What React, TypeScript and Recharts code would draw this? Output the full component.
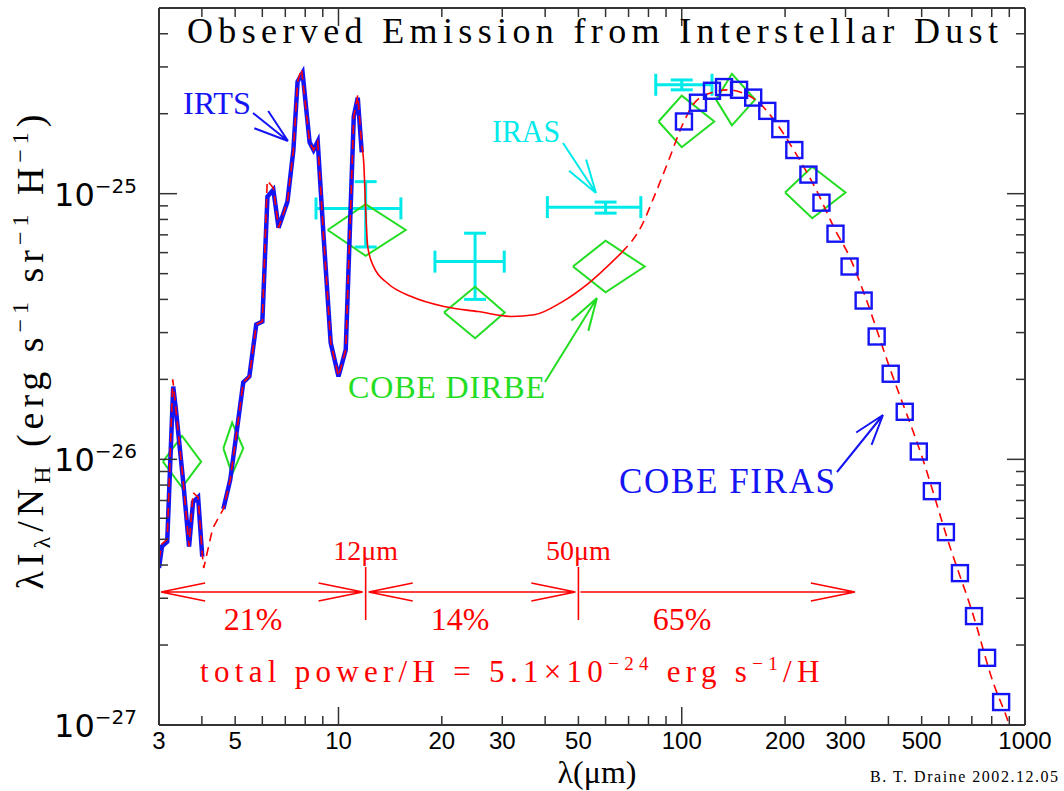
import React from 'react';
import { ComposedChart, Line, Scatter, ErrorBar, XAxis, YAxis } from 'recharts';

// IRTS spectrum (two pieces, gap between 4.0 and 4.6 um)
const irtsShortLam = [3.0, 3.06, 3.17, 3.3, 3.36, 3.53, 3.67, 3.77, 3.9, 4.01];
const irtsShortVal = [3.9e-27, 4.7e-27, 4.9e-27, 1.88e-26, 1.54e-26, 8.2e-27, 4.7e-27, 6.9e-27, 7.2e-27, 4.3e-27];
const irtsLongLam = [4.62, 4.84, 5.28, 5.5, 5.76, 6.0, 6.21, 6.46, 6.69, 7.1, 7.39, 7.6, 7.86, 8.24, 8.46, 8.7, 9.05, 9.49, 10.0, 10.5, 11.08, 11.38, 11.69];
const irtsLongVal = [6.5e-27, 8.4e-27, 1.95e-26, 2.05e-26, 3.22e-26, 3.3e-26, 9.75e-26, 1.035e-25, 7.45e-26, 9.33e-26, 1.46e-25, 2.64e-25, 2.85e-25, 1.56e-25, 1.46e-25, 1.57e-25, 6.89e-26, 2.75e-26, 2.05e-26, 2.59e-26, 1.95e-25, 2.3e-25, 1.43e-25];

// dust model: PAH part (dashed), mid-IR continuum (solid), far-IR (dashed)
const modelPahLam = [3.0, 3.06, 3.17, 3.29, 3.36, 3.53, 3.67, 3.77, 3.9, 4.01, 4.05, 4.3, 4.62, 4.84, 5.28, 5.5, 5.76, 6.0, 6.2, 6.46, 6.69, 7.1, 7.39, 7.6, 7.8, 8.24, 8.46, 8.7, 9.05, 9.49, 10.0, 10.5, 11.08, 11.38, 11.7];
const modelPahVal = [4.2e-27, 4.8e-27, 5.0e-27, 2.0e-26, 1.55e-26, 8.2e-27, 4.7e-27, 7.5e-27, 7.2e-27, 4.4e-27, 3.9e-27, 5.5e-27, 6.5e-27, 8.4e-27, 1.95e-26, 2.05e-26, 3.22e-26, 3.3e-26, 1.12e-25, 1.05e-25, 7.45e-26, 9.33e-26, 1.46e-25, 2.64e-25, 2.95e-25, 1.56e-25, 1.46e-25, 1.57e-25, 6.89e-26, 2.75e-26, 2.05e-26, 2.59e-26, 1.95e-25, 2.35e-25, 1.5e-25];
const modelMirLam = [11.7, 11.85, 12.0, 12.17, 12.67, 13.9, 16.3, 20.3, 25.5, 31.9, 37.2, 44.6, 53.5, 66.8];
const modelMirVal = [1.5e-25, 1.3e-25, 8.7e-26, 6.3e-26, 5.3e-26, 4.6e-26, 4.1e-26, 3.76e-26, 3.6e-26, 3.45e-26, 3.5e-26, 3.9e-26, 4.6e-26, 6.0e-26];
const modelFirLam = [66.8, 76.5, 83.5, 91.7, 100, 109, 122, 137, 150, 168, 187, 214, 245, 280, 308, 340, 404, 504, 604, 706, 807, 893, 940];
const modelFirVal = [6.0e-26, 7.6e-26, 9.9e-26, 1.34e-25, 1.79e-25, 2.2e-25, 2.4e-25, 2.46e-25, 2.4e-25, 2.2e-25, 1.87e-25, 1.43e-25, 1.05e-25, 7.3e-26, 5.8e-26, 4.2e-26, 2.2e-26, 1.0e-26, 4.7e-27, 2.6e-27, 1.45e-27, 1.03e-27, 8.3e-28];

// IRAS bands
const irasLam = [12, 25, 60, 100];
const irasVal = [8.8e-26, 5.55e-26, 8.9e-26, 2.57e-25];
const irasLamLo = [8.6, 19.1, 40.6, 84];
const irasLamHi = [15.2, 30.4, 76, 122.5];
const irasValLo = [6.3e-26, 4.0e-26, 8.45e-26, 2.46e-25];
const irasValHi = [1.11e-25, 7.1e-26, 9.3e-26, 2.68e-25];

// COBE DIRBE bands
const dirbeLam = [3.5, 4.9, 12, 25, 60, 100, 140, 240];
const dirbeVal = [9.8e-27, 1.1e-26, 7.3e-26, 3.57e-26, 5.32e-26, 1.87e-25, 2.26e-25, 1.01e-25];
const dirbeLamLo = [3.08, 4.62, 9.3, 20.3, 48.2, 85.6, 125.9, 200];
const dirbeLamHi = [3.98, 5.28, 15.7, 30.5, 78, 124.4, 163.6, 300];

// COBE FIRAS
const firasLam = [101.5, 111.5, 122.5, 132.8, 146.9, 161.5, 177.5, 193.7, 212.8, 233.9, 255.3, 280.5, 308.3, 338.8, 369.7, 406.2, 446.3, 490.5, 535.4, 588.3, 646.4, 710.3, 775.4, 852.0];
const firasVal = [1.87e-25, 2.2e-25, 2.44e-25, 2.52e-25, 2.46e-25, 2.3e-25, 2.05e-25, 1.75e-25, 1.46e-25, 1.18e-25, 9.25e-26, 7.07e-26, 5.32e-26, 3.96e-26, 2.9e-26, 2.1e-26, 1.51e-26, 1.07e-26, 7.59e-27, 5.32e-27, 3.73e-27, 2.57e-27, 1.79e-27, 1.22e-27];

// axes
const xTicks = [3, 4, 5, 6, 7, 8, 9, 10, 20, 30, 40, 50, 60, 70, 80, 90, 100, 200, 300, 400, 500, 600, 700, 800, 900, 1000];
const xLabels = [3, 5, 10, 20, 30, 50, 100, 200, 300, 500, 1000];
const xMajor = [10, 100, 1000];
const yTicks = [
  1e-27, 2e-27, 3e-27, 4e-27, 5e-27, 6e-27, 7e-27, 8e-27, 9e-27,
  1e-26, 2e-26, 3e-26, 4e-26, 5e-26, 6e-26, 7e-26, 8e-26, 9e-26,
  1e-25, 2e-25, 3e-25, 4e-25,
];

const pts = (lam: number[], val: number[]) => lam.map((l, i) => ({ lam: l, val: val[i] }));

const DIAMOND = Math.pow(10, 0.097);
const diamonds = dirbeLam.map((l, i) => [
  { lam: dirbeLamLo[i], val: dirbeVal[i] },
  { lam: l, val: dirbeVal[i] * DIAMOND },
  { lam: dirbeLamHi[i], val: dirbeVal[i] },
  { lam: l, val: dirbeVal[i] / DIAMOND },
  { lam: dirbeLamLo[i], val: dirbeVal[i] },
]);

const irasData = irasLam.map((l, i) => ({
  lam: l,
  val: irasVal[i],
  ex: [l - irasLamLo[i], irasLamHi[i] - l],
  ey: [irasVal[i] - irasValLo[i], irasValHi[i] - irasVal[i]],
}));

const AXIS = '#333';
const RED = '#ff0000';
const BLUE = '#1414f5';
const CYAN = '#00eaea';
const GREEN = '#22dd22';
const SERIF = '"Liberation Serif", "DejaVu Serif", serif';
const SANS = '"DejaVu Sans", sans-serif';

const isDecade = (v: number) => Math.abs(Math.log10(v) - Math.round(Math.log10(v))) < 0.01;

const BottomTick = (p: any) => {
  const v = p.payload.value;
  const len = xMajor.includes(v) ? 18 : 9;
  return (
    <g>
      <line x1={p.x} x2={p.x} y1={p.y} y2={p.y - len} stroke={AXIS} strokeWidth={1.5} />
      {xLabels.includes(v) && (
        <text x={p.x} y={p.y + 24} textAnchor="middle" fontFamily='"Liberation Sans", sans-serif' fontSize={24} fill="#000">
          {v}
        </text>
      )}
    </g>
  );
};

const TopTick = (p: any) => {
  const len = xMajor.includes(p.payload.value) ? 18 : 9;
  return <line x1={p.x} x2={p.x} y1={p.y} y2={p.y + len} stroke={AXIS} strokeWidth={1.5} />;
};

const LeftTick = (p: any) => {
  const v = p.payload.value;
  const major = isDecade(v);
  return (
    <g>
      <line x1={p.x} x2={p.x + (major ? 18 : 9)} y1={p.y} y2={p.y} stroke={AXIS} strokeWidth={1.5} />
      {major && (
        <text x={p.x - 22} y={p.y + 12} textAnchor="end" fontFamily={SANS} fontSize={32} fill="#000">
          <tspan>10</tspan>
          <tspan fontSize={20} dy={-13}>{'−' + Math.round(-Math.log10(v))}</tspan>
        </text>
      )}
    </g>
  );
};

const RightTick = (p: any) => {
  const major = isDecade(p.payload.value);
  return <line x1={p.x} x2={p.x - (major ? 18 : 9)} y1={p.y} y2={p.y} stroke={AXIS} strokeWidth={1.5} />;
};

const Square = (p: any) => (
  <rect x={p.cx - 8} y={p.cy - 8} width={16} height={16} fill="none" stroke={BLUE} strokeWidth={2.4} />
);

// plot box, used only to place the annotations
const PLOT = { left: 159, right: 1025 };
const px = (l: number) => PLOT.left + (Math.log10(l / 3) / Math.log10(1000 / 3)) * (PLOT.right - PLOT.left);

function barbs(x1: number, y1: number, x2: number, y2: number, len: number, deg: number) {
  const a = Math.atan2(y1 - y2, x1 - x2);
  const r = (deg * Math.PI) / 180;
  return [a - r, a + r].map((b) => `M${x2},${y2} L${x2 + len * Math.cos(b)},${y2 + len * Math.sin(b)}`).join(' ');
}

const Arrow = ({ x1, y1, x2, y2, color, len = 34, deg = 17, both = false, w = 2 }: any) => (
  <path
    d={`M${x1},${y1} L${x2},${y2} ${barbs(x1, y1, x2, y2, len, deg)} ${both ? barbs(x2, y2, x1, y1, len, deg) : ''}`}
    stroke={color}
    strokeWidth={w}
    fill="none"
  />
);

const Annotations = () => {
  const x12 = px(12);
  const x50 = px(50);
  const ya = 592;
  return (
    <svg width={1064} height={791} style={{ position: 'absolute', left: 0, top: 0, pointerEvents: 'none' }}>
      <text x={187} y={43} fontFamily={SERIF} fontSize={36} textLength={811} lengthAdjust="spacing" fill="#000">
        Observed Emission from Interstellar Dust
      </text>

      <text x={183} y={114} fontFamily={SERIF} fontSize={32} textLength={68} lengthAdjust="spacingAndGlyphs" fill={BLUE}>IRTS</text>
      <Arrow x1={253} y1={113} x2={288} y2={141} color={BLUE} len={36} deg={18} />

      <text x={492} y={142} fontFamily={SERIF} fontSize={32} textLength={68} lengthAdjust="spacingAndGlyphs" fill={CYAN}>IRAS</text>
      <Arrow x1={563} y1={143} x2={596} y2={193} color={CYAN} len={35} deg={17} />

      <text x={348} y={398} fontFamily={SERIF} fontSize={32} textLength={197} lengthAdjust="spacing" fill={GREEN}>COBE DIRBE</text>
      <Arrow x1={545} y1={382} x2={597} y2={298} color={GREEN} len={34} deg={17} />

      <text x={619} y={493} fontFamily={SERIF} fontSize={35} textLength={216} lengthAdjust="spacing" fill={BLUE}>COBE FIRAS</text>
      <Arrow x1={837} y1={472} x2={883} y2={415} color={BLUE} len={32} deg={18} />

      <line x1={x12} x2={x12} y1={567} y2={620} stroke={RED} strokeWidth={1.6} />
      <line x1={x50} x2={x50} y1={567} y2={620} stroke={RED} strokeWidth={1.6} />
      <Arrow x1={PLOT.left + 2} y1={ya} x2={x12 - 3} y2={ya} color={RED} len={45} deg={11.5} both w={1.6} />
      <Arrow x1={x12 + 3} y1={ya} x2={x50 - 3} y2={ya} color={RED} len={45} deg={11.5} both w={1.6} />
      <Arrow x1={x50 + 2} y1={ya} x2={855} y2={ya} color={RED} len={45} deg={11.5} w={1.6} />

      <text x={x12} y={560} textAnchor="middle" fontFamily={SERIF} fontSize={28} fill={RED}>12μm</text>
      <text x={x50} y={560} textAnchor="middle" fontFamily={SERIF} fontSize={28} fill={RED}>50μm</text>
      <text x={253} y={630} textAnchor="middle" fontFamily={SERIF} fontSize={32} fill={RED}>21%</text>
      <text x={460} y={630} textAnchor="middle" fontFamily={SERIF} fontSize={32} fill={RED}>14%</text>
      <text x={682} y={630} textAnchor="middle" fontFamily={SERIF} fontSize={32} fill={RED}>65%</text>

      <text x={200} y={682} fontFamily={SERIF} fontSize={31} letterSpacing={5.3} fill={RED}>
        <tspan>total power/H = 5.1×10</tspan>
        <tspan fontSize={19} dy={-12}>−24</tspan>
        <tspan dy={12}> erg s</tspan>
        <tspan fontSize={19} dy={-12}>−1</tspan>
        <tspan dy={12}>/H</tspan>
      </text>

      <text transform="translate(43,352) rotate(-90)" textAnchor="middle" fontFamily={SERIF} fontSize={38} textLength={475} lengthAdjust="spacing" fill="#000">
        <tspan>λI</tspan>
        <tspan fontSize={24} dy={7}>λ</tspan>
        <tspan dy={-7}>/N</tspan>
        <tspan fontSize={24} dy={7}>H</tspan>
        <tspan dy={-7}> (erg s</tspan>
        <tspan fontSize={24} dy={-15}>−1</tspan>
        <tspan dy={15}> sr</tspan>
        <tspan fontSize={24} dy={-15}>−1</tspan>
        <tspan dy={15}> H</tspan>
        <tspan fontSize={24} dy={-15}>−1</tspan>
        <tspan dy={15}>)</tspan>
      </text>

      <text x={597} y={783} textAnchor="middle" fontFamily={SERIF} fontSize={32} fill="#000">λ(μm)</text>
      <text x={870} y={782} fontFamily={SERIF} fontSize={16} textLength={188} lengthAdjust="spacing" fill="#000">B. T. Draine 2002.12.05</text>
    </svg>
  );
};

const logAxis = { type: 'number' as const, scale: 'log' as const, allowDataOverflow: true, interval: 0, tickSize: 0, tickMargin: 0, tickLine: false, axisLine: { stroke: AXIS, strokeWidth: 2 } };

export default function App() {
  return (
    <div style={{ position: 'absolute', left: 0, top: 0, width: 1064, height: 791, background: '#fff' }}>
      <ComposedChart width={1064} height={791} margin={{ top: 0, right: 29, bottom: 16, left: 59 }}>
        <XAxis {...logAxis} dataKey="lam" domain={[3, 1000]} ticks={xTicks} height={50} tick={BottomTick} />
        <XAxis {...logAxis} xAxisId="top" orientation="top" dataKey="lam" domain={[3, 1000]} ticks={xTicks} height={8} tick={TopTick} />
        <YAxis {...logAxis} dataKey="val" domain={[1e-27, 5e-25]} ticks={yTicks} width={100} tick={LeftTick} />
        <YAxis {...logAxis} yAxisId="right" orientation="right" dataKey="val" domain={[1e-27, 5e-25]} ticks={yTicks} width={10} tick={RightTick} />

        <Scatter data={irasData} dataKey="val" shape={() => <g />} isAnimationActive={false}>
          <ErrorBar dataKey="ex" direction="x" width={11} stroke={CYAN} strokeWidth={3} />
          <ErrorBar dataKey="ey" direction="y" width={11} stroke={CYAN} strokeWidth={3} />
        </Scatter>

        {diamonds.map((d, i) => (
          <Line key={'dirbe' + i} data={d} dataKey="val" type="linear" stroke={GREEN} strokeWidth={2} dot={false} isAnimationActive={false} />
        ))}

        <Scatter data={pts(firasLam, firasVal)} dataKey="val" shape={Square} isAnimationActive={false} />

        <Line data={pts(irtsShortLam, irtsShortVal)} dataKey="val" type="linear" stroke={BLUE} strokeWidth={4.5} dot={false} isAnimationActive={false} />
        <Line data={pts(irtsLongLam, irtsLongVal)} dataKey="val" type="linear" stroke={BLUE} strokeWidth={4.5} dot={false} isAnimationActive={false} />

        <Line data={pts(modelPahLam, modelPahVal)} dataKey="val" type="linear" stroke={RED} strokeWidth={1.6} strokeDasharray="9 6" dot={false} isAnimationActive={false} />
        <Line data={pts(modelMirLam, modelMirVal)} dataKey="val" type="monotone" stroke={RED} strokeWidth={1.6} dot={false} isAnimationActive={false} />
        <Line data={pts(modelFirLam, modelFirVal)} dataKey="val" type="monotone" stroke={RED} strokeWidth={1.6} strokeDasharray="9 6" dot={false} isAnimationActive={false} />
      </ComposedChart>
      <Annotations />
    </div>
  );
}
